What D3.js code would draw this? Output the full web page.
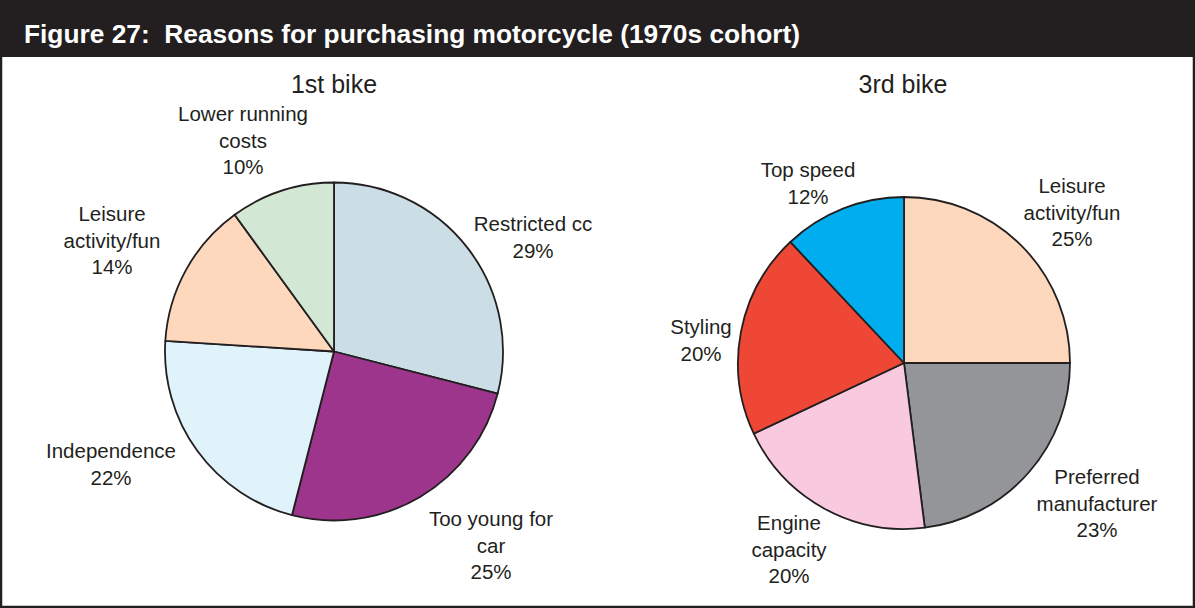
<!DOCTYPE html>
<html>
<head>
<meta charset="utf-8">
<script src="https://cdn.jsdelivr.net/npm/d3@7"></script>
<style>
  html, body { margin: 0; padding: 0; background: #fff; }
  svg { display: block; }
  text { font-family: "Liberation Sans", Arial, Helvetica, sans-serif; fill: #231f20; }
</style>
</head>
<body>
<svg id="chart" width="1195" height="608"></svg>
<script>
// ---- Data ----
const title = "Figure 27:  Reasons for purchasing motorcycle (1970s cohort)";
const chartTitles = ["1st bike", "3rd bike"];

const bike1Categories = ["Restricted cc", "Too young for car", "Independence", "Leisure activity/fun", "Lower running costs"];
const bike1Values = [29, 25, 22, 14, 10];
const bike1LabelLines = [["Restricted cc"], ["Too young for", "car"], ["Independence"], ["Leisure", "activity/fun"], ["Lower running", "costs"]];

const bike3Categories = ["Leisure activity/fun", "Preferred manufacturer", "Engine capacity", "Styling", "Top speed"];
const bike3Values = [25, 23, 20, 20, 12];
const bike3LabelLines = [["Leisure", "activity/fun"], ["Preferred", "manufacturer"], ["Engine", "capacity"], ["Styling"], ["Top speed"]];

// ---- Styles / layout ----
const bike1Colors = ["#cbdde5", "#9c358b", "#e0f2fa", "#fdd8bd", "#d3e8d4"];
const bike3Colors = ["#fdd8bd", "#939598", "#f8c9df", "#ee4736", "#00aeef"];

const W = 1195, H = 608;
const svg = d3.select("#chart");
const dark = "#231f20";

// title bar
svg.append("rect").attr("x", 0).attr("y", 0).attr("width", W).attr("height", 57).attr("fill", dark);
svg.append("text").attr("x", 24).attr("y", 43)
  .style("font-size", "26.3px").style("font-weight", "bold").style("fill", "#ffffff")
  .attr("xml:space", "preserve")
  .text(title);

// frame
svg.append("path")
  .attr("d", `M1,57 V${H-1} H${W-1} V57`)
  .attr("fill", "none").attr("stroke", dark).attr("stroke-width", 2.5);

const pies = [
  { cx: 334, cy: 351.5, r: 169, values: bike1Values, cats: bike1Categories, lines: bike1LabelLines, colors: bike1Colors,
    titleX: 334,
    labelOffsets: [[199, -127.5], [157, 167.5], [-223, 99.5], [-222, -137.5], [-91, -237.5]] },
  { cx: 904, cy: 363, r: 166, values: bike3Values, cats: bike3Categories, lines: bike3LabelLines, colors: bike3Colors,
    titleX: 903,
    labelOffsets: [[168, -177], [193, 114], [-115, 160], [-203, -36], [-96, -193]] }
];

const lineH = 26.5;
const labelSize = 20.5;

pies.forEach((p, pi) => {
  const g = svg.append("g").attr("transform", `translate(${p.cx},${p.cy})`);
  const pie = d3.pie().sort(null).value(d => d)(p.values);
  const arc = d3.arc().innerRadius(0).outerRadius(p.r);

  g.selectAll("path.slice").data(pie).enter().append("path")
    .attr("class", "slice")
    .attr("d", arc)
    .attr("fill", (d, i) => p.colors[i])
    .attr("stroke", dark)
    .attr("stroke-width", 1.8)
    .attr("stroke-linejoin", "round");

  // chart title
  svg.append("text")
    .attr("x", p.titleX).attr("y", 93)
    .attr("text-anchor", "middle")
    .style("font-size", "25px")
    .text(chartTitles[pi]);

  // labels
  pie.forEach((d, i) => {
    const [ox, oy] = p.labelOffsets[i];
    const lines = p.lines[i].concat([p.values[i] + "%"]);
    const t = g.append("text")
      .attr("text-anchor", "middle")
      .style("font-size", labelSize + "px");
    lines.forEach((ln, k) => {
      t.append("tspan").attr("x", ox).attr("y", oy + k * lineH + labelSize * 0.36).text(ln);
    });
  });
});
</script>
</body>
</html>
